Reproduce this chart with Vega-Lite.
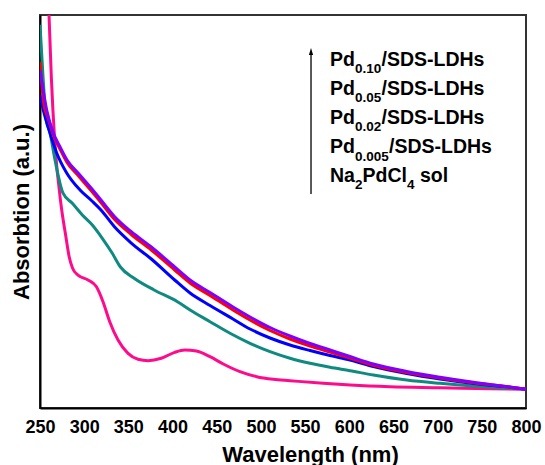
{
  "$schema": "https://vega.github.io/schema/vega-lite/v6.json",
  "width": 486,
  "height": 393,
  "autosize": {"type": "none"},
  "padding": {"left": 40, "top": 15, "right": 19, "bottom": 57},
  "config": {
    "view": {"stroke": "#333333", "strokeWidth": 2},
    "font": "Liberation Sans"
  },
  "datasets": {
    "curves": [
      {"s":"Na2PdCl4","w":257.4,"a":1.14},{"s":"Na2PdCl4","w":260.2,"a":1.0},{"s":"Na2PdCl4","w":262.8,"a":0.843},{"s":"Na2PdCl4","w":266.6,"a":0.682},{"s":"Na2PdCl4","w":274.1,"a":0.512},{"s":"Na2PdCl4","w":279.0,"a":0.44},{"s":"Na2PdCl4","w":283.0,"a":0.385},{"s":"Na2PdCl4","w":287.0,"a":0.355},{"s":"Na2PdCl4","w":293.0,"a":0.338},{"s":"Na2PdCl4","w":304.3,"a":0.326},{"s":"Na2PdCl4","w":313.7,"a":0.309},{"s":"Na2PdCl4","w":321.3,"a":0.2705},{"s":"Na2PdCl4","w":328.9,"a":0.2196},{"s":"Na2PdCl4","w":338.3,"a":0.173},{"s":"Na2PdCl4","w":349.6,"a":0.139},{"s":"Na2PdCl4","w":360.9,"a":0.124},{"s":"Na2PdCl4","w":372.2,"a":0.1204},{"s":"Na2PdCl4","w":387.3,"a":0.1265},{"s":"Na2PdCl4","w":402.4,"a":0.1417},{"s":"Na2PdCl4","w":413.8,"a":0.1476},{"s":"Na2PdCl4","w":426.9,"a":0.145},{"s":"Na2PdCl4","w":442.4,"a":0.1305},{"s":"Na2PdCl4","w":457.4,"a":0.112},{"s":"Na2PdCl4","w":476.3,"a":0.0924},{"s":"Na2PdCl4","w":495.2,"a":0.0796},{"s":"Na2PdCl4","w":514,"a":0.073},{"s":"Na2PdCl4","w":533,"a":0.0695},{"s":"Na2PdCl4","w":570.6,"a":0.0628},{"s":"Na2PdCl4","w":601,"a":0.0585},{"s":"Na2PdCl4","w":646,"a":0.0542},{"s":"Na2PdCl4","w":702.7,"a":0.0517},{"s":"Na2PdCl4","w":759.3,"a":0.0491},{"s":"Na2PdCl4","w":800,"a":0.0476},
      {"s":"Pd0.005","w":250,"a":0.975},{"s":"Pd0.005","w":253.4,"a":0.843},{"s":"Pd0.005","w":257.1,"a":0.733},{"s":"Pd0.005","w":261.3,"a":0.6997},{"s":"Pd0.005","w":267.0,"a":0.631},{"s":"Pd0.005","w":275.9,"a":0.5471},{"s":"Pd0.005","w":286.6,"a":0.5209},{"s":"Pd0.005","w":297.9,"a":0.4911},{"s":"Pd0.005","w":309.2,"a":0.4656},{"s":"Pd0.005","w":320.5,"a":0.4318},{"s":"Pd0.005","w":331.8,"a":0.3936},{"s":"Pd0.005","w":341.0,"a":0.3588},{"s":"Pd0.005","w":356.5,"a":0.33},{"s":"Pd0.005","w":379.1,"a":0.3003},{"s":"Pd0.005","w":405.5,"a":0.2705},{"s":"Pd0.005","w":419.8,"a":0.2494},{"s":"Pd0.005","w":442.4,"a":0.2196},{"s":"Pd0.005","w":465.0,"a":0.1901},{"s":"Pd0.005","w":487.7,"a":0.1646},{"s":"Pd0.005","w":510.3,"a":0.1433},{"s":"Pd0.005","w":532.9,"a":0.1265},{"s":"Pd0.005","w":555.6,"a":0.1137},{"s":"Pd0.005","w":578.2,"a":0.1036},{"s":"Pd0.005","w":600.8,"a":0.0949},{"s":"Pd0.005","w":627.2,"a":0.084},{"s":"Pd0.005","w":665.0,"a":0.0712},{"s":"Pd0.005","w":702.7,"a":0.0628},{"s":"Pd0.005","w":740.4,"a":0.056},{"s":"Pd0.005","w":778.2,"a":0.0509},{"s":"Pd0.005","w":800,"a":0.0476},
      {"s":"Pd0.02","w":250,"a":0.7964},{"s":"Pd0.02","w":253.7,"a":0.7583},{"s":"Pd0.02","w":261.3,"a":0.6997},{"s":"Pd0.02","w":268.9,"a":0.6489},{"s":"Pd0.02","w":280.2,"a":0.598},{"s":"Pd0.02","w":295.3,"a":0.5547},{"s":"Pd0.02","w":308.8,"a":0.5267},{"s":"Pd0.02","w":319.0,"a":0.5038},{"s":"Pd0.02","w":334.5,"a":0.4606},{"s":"Pd0.02","w":353.3,"a":0.4198},{"s":"Pd0.02","w":376.0,"a":0.3791},{"s":"Pd0.02","w":402.4,"a":0.3257},{"s":"Pd0.02","w":419.8,"a":0.2926},{"s":"Pd0.02","w":442.4,"a":0.2608},{"s":"Pd0.02","w":468.4,"a":0.2265},{"s":"Pd0.02","w":487.7,"a":0.201},{"s":"Pd0.02","w":510.3,"a":0.1781},{"s":"Pd0.02","w":532.9,"a":0.1603},{"s":"Pd0.02","w":555.6,"a":0.1463},{"s":"Pd0.02","w":578.2,"a":0.1336},{"s":"Pd0.02","w":600.8,"a":0.1221},{"s":"Pd0.02","w":627.2,"a":0.1056},{"s":"Pd0.02","w":665.0,"a":0.0878},{"s":"Pd0.02","w":702.7,"a":0.0738},{"s":"Pd0.02","w":740.4,"a":0.0623},{"s":"Pd0.02","w":778.2,"a":0.0539},{"s":"Pd0.02","w":800,"a":0.0476},
      {"s":"Pd0.05","w":250,"a":0.8804},{"s":"Pd0.05","w":254.5,"a":0.771},{"s":"Pd0.05","w":259.1,"a":0.7379},{"s":"Pd0.05","w":265.1,"a":0.6947},{"s":"Pd0.05","w":272.6,"a":0.659},{"s":"Pd0.05","w":280.6,"a":0.6247},{"s":"Pd0.05","w":294.1,"a":0.5891},{"s":"Pd0.05","w":308.8,"a":0.5509},{"s":"Pd0.05","w":319.0,"a":0.5229},{"s":"Pd0.05","w":334.5,"a":0.4796},{"s":"Pd0.05","w":353.3,"a":0.4415},{"s":"Pd0.05","w":376.0,"a":0.402},{"s":"Pd0.05","w":402.4,"a":0.3511},{"s":"Pd0.05","w":419.8,"a":0.3181},{"s":"Pd0.05","w":442.4,"a":0.2863},{"s":"Pd0.05","w":468.4,"a":0.2494},{"s":"Pd0.05","w":487.7,"a":0.2239},{"s":"Pd0.05","w":510.3,"a":0.1972},{"s":"Pd0.05","w":532.9,"a":0.1756},{"s":"Pd0.05","w":555.6,"a":0.1578},{"s":"Pd0.05","w":578.2,"a":0.1425},{"s":"Pd0.05","w":600.8,"a":0.1272},{"s":"Pd0.05","w":627.2,"a":0.1087},{"s":"Pd0.05","w":665.0,"a":0.0903},{"s":"Pd0.05","w":702.7,"a":0.0763},{"s":"Pd0.05","w":740.4,"a":0.0641},{"s":"Pd0.05","w":778.2,"a":0.0542},{"s":"Pd0.05","w":800,"a":0.0476},
      {"s":"Pd0.10","w":250,"a":0.8601},{"s":"Pd0.10","w":257.6,"a":0.7583},{"s":"Pd0.10","w":265.1,"a":0.6997},{"s":"Pd0.10","w":272.6,"a":0.6649},{"s":"Pd0.10","w":280.6,"a":0.631},{"s":"Pd0.10","w":294.1,"a":0.5954},{"s":"Pd0.10","w":308.8,"a":0.5573},{"s":"Pd0.10","w":319.0,"a":0.5293},{"s":"Pd0.10","w":334.5,"a":0.4868},{"s":"Pd0.10","w":353.3,"a":0.4486},{"s":"Pd0.10","w":376.0,"a":0.4097},{"s":"Pd0.10","w":402.4,"a":0.3588},{"s":"Pd0.10","w":419.8,"a":0.3257},{"s":"Pd0.10","w":442.4,"a":0.2939},{"s":"Pd0.10","w":468.4,"a":0.257},{"s":"Pd0.10","w":487.7,"a":0.2316},{"s":"Pd0.10","w":510.3,"a":0.2048},{"s":"Pd0.10","w":532.9,"a":0.1832},{"s":"Pd0.10","w":555.6,"a":0.1641},{"s":"Pd0.10","w":578.2,"a":0.1476},{"s":"Pd0.10","w":600.8,"a":0.131},{"s":"Pd0.10","w":627.2,"a":0.112},{"s":"Pd0.10","w":665.0,"a":0.0929},{"s":"Pd0.10","w":702.7,"a":0.0781},{"s":"Pd0.10","w":740.4,"a":0.0654},{"s":"Pd0.10","w":778.2,"a":0.0547},{"s":"Pd0.10","w":800,"a":0.0476}
    ],
    "legend": [
      {"w":578.2,"a":0.8702,"pre":"Pd","sub":"0.10","post":"/SDS-LDHs"},
      {"w":578.2,"a":0.7964,"pre":"Pd","sub":"0.05","post":"/SDS-LDHs"},
      {"w":578.2,"a":0.7226,"pre":"Pd","sub":"0.02","post":"/SDS-LDHs"},
      {"w":578.2,"a":0.6481,"pre":"Pd","sub":"0.005","post":"/SDS-LDHs"},
      {"w":578.2,"a":0.5758,"pre":"Na","sub":"2","post":"PdCl","sub2":"4","post2":"sol"}
    ],
    "arrow": [
      {"w":556.7,"a":0.9071,"top":0.9,"bottom":0.5445}
    ],
    "majorTicks": [
      {"w":250},{"w":300},{"w":350},{"w":400},{"w":450},{"w":500},{"w":550},{"w":600},{"w":650},{"w":700},{"w":750},{"w":800}
    ],
    "minorTicks": [
      {"w":275},{"w":325},{"w":375},{"w":425},{"w":475},{"w":525},{"w":575},{"w":625},{"w":675},{"w":725},{"w":775}
    ]
  },
  "encoding": {
    "x": {"field":"w","type":"quantitative","scale":{"domain":[250,800],"nice":false,"zero":false},"axis":null},
    "y": {"field":"a","type":"quantitative","scale":{"domain":[0,1],"nice":false,"zero":false},"axis":null}
  },
  "layer": [
    {
      "data": {"name":"curves"},
      "mark": {"type":"line","clip":true,"interpolate":"monotone"},
      "encoding": {
        "x": {"field":"w","type":"quantitative","scale":{"domain":[250,800],"nice":false,"zero":false},
          "axis": {"orient":"bottom","title":"Wavelength (nm)","titleFont":"Liberation Sans","titleFontSize":22,"titleFontWeight":"bold","titleColor":"black","titleX":270,"titleY":53,"titleBaseline":"alphabetic","values":[250,300,350,400,450,500,550,600,650,700,750,800],"ticks":false,"labelFont":"Liberation Sans","labelFontSize":18,"labelFontWeight":"bold","labelColor":"black","labelPadding":10,"labelFlush":false,"labelOverlap":false,"labelBound":false,"domain":true,"domainColor":"black","domainWidth":2,"grid":false}},
        "y": {"field":"a","type":"quantitative","scale":{"domain":[0,1],"nice":false,"zero":false},
          "axis": {"orient":"left","title":"Absorbtion (a.u.)","titleFont":"Liberation Sans","titleFontSize":22,"titleFontWeight":"bold","titleColor":"black","titlePadding":7,"labels":false,"ticks":false,"domain":true,"domainColor":"black","domainWidth":2,"grid":false,"minExtent":0}},
        "color": {"field":"s","type":"nominal","scale":{"domain":["Na2PdCl4","Pd0.005","Pd0.02","Pd0.05","Pd0.10"],"range":["#ff0a8a","#0f8a80","#0000ff","#ff0000","#8000ff"]},"legend":null},
        "strokeWidth": {"field":"s","type":"nominal","scale":{"domain":["Na2PdCl4","Pd0.005","Pd0.02","Pd0.05","Pd0.10"],"range":[3,3,3,2.5,4]},"legend":null}
      }
    },
    {
      "data": {"name":"majorTicks"},
      "mark": {"type":"rule","color":"black","strokeWidth":1.5},
      "encoding": {
        "y": {"datum":0,"type":"quantitative","scale":{"domain":[0,1],"nice":false,"zero":false},"axis":null},
        "y2": {"datum":0.0178}
      }
    },
    {
      "data": {"name":"minorTicks"},
      "mark": {"type":"rule","color":"black","strokeWidth":1.5},
      "encoding": {
        "y": {"datum":0,"type":"quantitative","scale":{"domain":[0,1],"nice":false,"zero":false},"axis":null},
        "y2": {"datum":0.0102}
      }
    },
    {
      "data": {"name":"arrow"},
      "mark": {"type":"rule","color":"black","strokeWidth":1.3},
      "encoding": {
        "y": {"field":"top","type":"quantitative","scale":{"domain":[0,1],"nice":false,"zero":false},"axis":null},
        "y2": {"field":"bottom"}
      }
    },
    {
      "data": {"name":"arrow"},
      "mark": {"type":"point","filled":true,"color":"black","opacity":1,"shape":"M0,-1L0.6,1L-0.6,1Z","size":49},
      "encoding": {}
    },
    {
      "data": {"name":"legend"},
      "mark": {"type":"text","align":"left","baseline":"alphabetic","font":"Liberation Sans","fontWeight":"bold","fontSize":19.5,"color":"black"},
      "encoding": {"text": {"field":"pre"}}
    },
    {
      "data": {"name":"legend"},
      "mark": {"type":"text","align":"left","baseline":"alphabetic","font":"Liberation Sans","fontWeight":"bold","fontSize":13.5,"color":"black","dx":25,"dy":7.3},
      "encoding": {"text": {"field":"sub"}}
    },
    {
      "data": {"name":"legend"},
      "transform": [{"filter":"length(datum.sub) == 4"}],
      "mark": {"type":"text","align":"left","baseline":"alphabetic","font":"Liberation Sans","fontWeight":"bold","fontSize":19.5,"color":"black","dx":51.5},
      "encoding": {"text": {"field":"post"}}
    },
    {
      "data": {"name":"legend"},
      "transform": [{"filter":"length(datum.sub) == 5"}],
      "mark": {"type":"text","align":"left","baseline":"alphabetic","font":"Liberation Sans","fontWeight":"bold","fontSize":19.5,"color":"black","dx":59},
      "encoding": {"text": {"field":"post"}}
    },
    {
      "data": {"name":"legend"},
      "transform": [{"filter":"length(datum.sub) == 1"}],
      "mark": {"type":"text","align":"left","baseline":"alphabetic","font":"Liberation Sans","fontWeight":"bold","fontSize":19.5,"color":"black","dx":32.5},
      "encoding": {"text": {"field":"post"}}
    },
    {
      "data": {"name":"legend"},
      "transform": [{"filter":"isValid(datum.sub2)"}],
      "mark": {"type":"text","align":"left","baseline":"alphabetic","font":"Liberation Sans","fontWeight":"bold","fontSize":13.5,"color":"black","dx":77,"dy":7.3},
      "encoding": {"text": {"field":"sub2"}}
    },
    {
      "data": {"name":"legend"},
      "transform": [{"filter":"isValid(datum.post2)"}],
      "mark": {"type":"text","align":"left","baseline":"alphabetic","font":"Liberation Sans","fontWeight":"bold","fontSize":19.5,"color":"black","dx":90},
      "encoding": {"text": {"field":"post2"}}
    }
  ],
  "resolve": {"axis": {"x": "independent", "y": "independent"}}
}
